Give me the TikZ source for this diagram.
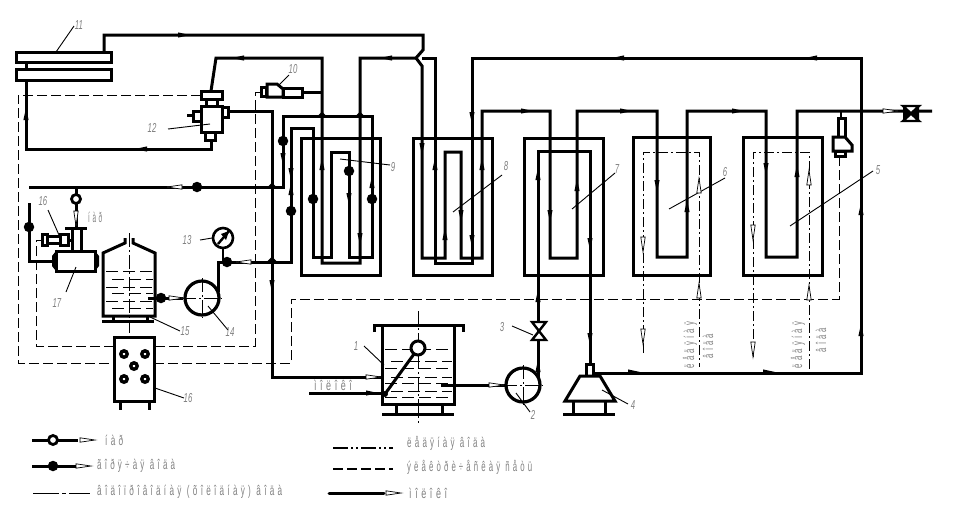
\documentclass[tikz,border=0pt]{standalone}
\usepackage{graphicx}
\usepackage{fontspec}
\setmainfont{Liberation Sans}
\newfontfamily\lblfont[LetterSpace=40]{Liberation Sans}
\definecolor{lblgray}{gray}{0.5}
\newcommand{\txt}[2]{\resizebox{#1pt}{\height}{\lblfont #2}}
\newcommand{\num}[1]{\scalebox{0.6}[1]{\itshape #1}}
\tikzset{
  x=1pt,y=-1pt,
  pipe/.style={line width=3pt,line cap=butt,line join=miter},
  wall/.style={line width=3pt,line join=miter},
  leader/.style={line width=0.9pt},
  ctrl/.style={line width=1pt,dash pattern=on 10pt off 4pt},
  center/.style={line width=0.8pt,dash pattern=on 14pt off 3pt on 2pt off 3pt},
  cold/.style={line width=1pt,dash pattern=on 10pt off 3pt on 2pt off 3pt},
  liquid/.style={line width=1pt,dash pattern=on 12pt off 5pt},
  numl/.style={text=lblgray,font=\fontsize{13}{13}\selectfont,inner sep=0pt},
  tl/.style={text=lblgray,font=\fontsize{14}{14}\selectfont,inner sep=0pt},
  dot/.style={circle,fill=black,draw=none,minimum size=10.5pt,inner sep=0pt},
  hdot/.style={circle,fill=white,draw=black,line width=2.8pt,minimum size=9pt,inner sep=0pt},
  farr/.pic={\fill[black] (0,0)--(-12,2.6)--(-12,-2.6)--cycle;},
  harr/.pic={\draw[fill=white,line width=0.7pt] (0,0)--(-15,2.2)--(-15,-2.2)--cycle;},
  hop/.pic={\fill[black] (-4.5,0) -- (0,-4.5) -- (4.5,0) -- cycle;}
}
\begin{document}
\begin{tikzpicture}
\useasboundingbox (0,0) rectangle (956,523);

% control (electric) dashed lines
\draw[ctrl] (201,95) -- (18,95) -- (18,363) -- (114,363);
\draw[ctrl] (154,363) -- (291,363) -- (291,299) -- (839,299) -- (839,156);
\draw[ctrl] (261,92) -- (255,92) -- (255,346) -- (154,346);
\draw[ctrl] (114,346) -- (36,346) -- (36,240) -- (42,240);

% unit 11
\draw[wall] (16,52) rectangle (111,62);
\draw[wall] (16,69) rectangle (111,80);
\draw[pipe] (26,62) -- (26,69);
\draw[leader] (56,52) -- (74,26);
\node[numl] (n11) at (79,25) {\num{11}};

% lines around 11 and valve 12
\draw[pipe] (104,52) -- (104,35) -- (423,35) -- (423,50) -- (416,58) -- (422,66) -- (422,258) -- (445,258) -- (445,152) -- (461,152) -- (461,258) -- (482,258) -- (482,111) -- (550,111) -- (550,258) -- (577,258) -- (577,111) -- (657,111) -- (657,257) -- (687,257) -- (687,111) -- (766,111) -- (766,257) -- (797,257) -- (797,111) -- (932,111);
\draw[pipe] (211,140) -- (211,149) -- (26,149) -- (26,80);
\draw[pipe] (211,91) -- (216,58) -- (322,58) -- (322,263) -- (360,263) -- (360,58) -- (416,58);
\draw[pipe] (422,58) -- (435,58) -- (435,263) -- (472,263) -- (472,58) -- (861,58) -- (861,373) -- (593,373);
\draw[pipe] (228,111) -- (272,111) -- (272,377) -- (382,377);
\draw[pipe] (29,187) -- (283,187) -- (283,116) -- (372,116) -- (372,257) -- (349,257) -- (349,152) -- (331,152) -- (331,257) -- (313,257) -- (313,128) -- (291,128) -- (291,262) -- (218,262) -- (218,292);

% valve 12
\draw[wall,fill=white] (201,91) rectangle (222,99);
\draw[wall,fill=white] (206,99) rectangle (217,106);
\draw[wall,fill=white] (201,106) rectangle (222,132);
\draw[wall,fill=white] (193,111) rectangle (201,121);
\draw[wall,fill=white] (222,107) rectangle (228,117);
\draw[wall,fill=white] (205,132) rectangle (215,140);
\draw[pipe] (187,115) -- (193,115);
\draw[leader] (168,129) -- (210,124);
\node[numl] (n12) at (152,128) {\num{12}};

% sensor 10
\draw[wall,fill=white] (261,87) rectangle (266,96);
\draw[wall,fill=white] (267,84) -- (277,84) -- (283,89) -- (283,97) -- (267,97) -- cycle;
\draw[wall,fill=white] (283,88) rectangle (302,97);
\draw[pipe] (302,92) -- (322,92);
\draw[leader] (279,85) -- (289,75);
\node[numl] (n10) at (293,69) {\num{10}};

% tanks
\draw[wall] (301,138) rectangle (380,275);
\draw[wall] (413,138) rectangle (492,275);
\draw[wall] (524,138) rectangle (603,275);
\draw[wall] (633,137) rectangle (710,275);
\draw[wall] (743,137) rectangle (822,275);

% tank 7 coil
\draw[pipe] (538,385) -- (538,151) -- (590,151) -- (590,364);

% chilled water
\draw[cold] (643,353) -- (643,152) -- (699,152) -- (699,367);
\draw[cold] (753,357) -- (753,152) -- (809,152) -- (809,369);

% dots on pipes
\node[dot] (d1) at (283,141) {};
\node[dot] (d2) at (291,211) {};
\node[dot] (d3) at (313,199) {};
\node[dot] (d4) at (349,171) {};
\node[dot] (d5) at (372,199) {};
\node[dot] (d6) at (197,187) {};
\node[dot] (d7) at (227,262) {};
\node[dot] (d8) at (161,298) {};
\node[dot] (d9) at (29,227) {};
\pic at (322,116) {hop};
\pic at (360,116) {hop};
\pic at (272,187) {hop};
\pic at (272,261) {hop};

% gauge 13
\draw[line width=2.6pt,fill=white] (223,238) circle (10);
\draw[line width=2.4pt] (218,244) -- (229,231);
\fill (229,231) -- (221,234) -- (226,240) -- cycle;
\draw[line width=1.2pt] (223,248) -- (223,262);
\draw[leader] (200,240) -- (212,238);
\node[numl] (n13) at (187,240) {\num{13}};

% pump 14
\draw[line width=3.2pt,fill=white] (202,298) circle (17);
\draw[center] (182,298) -- (222,298);
\draw[center] (202,278) -- (202,318);
\draw[leader] (208,306) -- (228,330);
\node[numl] (n14) at (230,332) {\num{14}};
\draw[pipe] (148,298) -- (183,298);

% tank 15
\draw[wall] (125,238) -- (125,243) -- (103,253) -- (103,316) -- (155,316) -- (155,253) -- (133,243) -- (133,238);
\draw[wall] (113,316) -- (113,321) (147,316) -- (147,321);
\draw[wall] (102,321) -- (154,321);
\draw[center] (129,233) -- (129,333);
\foreach \yy/\xo in {271/106,279/112,287/106,293/112,301/106,308/112} \draw[liquid] (\xo,\yy) -- (153,\yy);
\draw[leader] (150,317) -- (180,331);
\node[numl] (n15) at (185,331) {\num{15}};

% burner 16
\draw[wall] (120,401) -- (120,410) (149,401) -- (149,410);
\draw[wall,fill=white] (114,337) rectangle (154,401);
\foreach \xx/\yy in {124/354,145/354,134/366,124/379,145/379}
  \draw[line width=3.4pt,fill=white] (\xx,\yy) circle (3.2);
\draw[leader] (155,388) -- (184,398);
\node[numl] (n16) at (188,398) {\num{16}};

% heat exchanger 17
\draw[pipe] (29,203) -- (29,261) -- (53,261);
\draw[pipe] (76,187) -- (76,228);
\draw[wall,fill=white] (72,228) rectangle (81,251);
\draw[wall] (65,228) -- (87,228);
\draw[wall,fill=white] (42,234) rectangle (47,245);
\draw[wall,fill=white] (47,236) rectangle (60,243);
\draw[wall,fill=white] (60,234) rectangle (68,245);
\draw[wall] (68,240) -- (72,240);
\draw[wall,fill=white] (56,251) rectangle (95,271);
\fill (56,251) -- (52,256) -- (52,266) -- (56,271) -- cycle;
\fill (95,251) -- (99,256) -- (99,266) -- (95,271) -- cycle;
\node[hdot] (d10) at (76,199) {};
\draw[leader] (48,210) -- (59,235);
\node[numl] (n16b) at (43,201) {\num{16}};
\draw[leader] (66,292) -- (76,267);
\node[numl] (n17) at (57,303) {\num{17}};
\node[tl,anchor=west] (t1) at (88,217) {\txt{14}{íàð}};

% tank 1
\draw[wall] (382,325) -- (382,404) -- (454,404) -- (454,325);
\draw[wall] (374,332) -- (374,325) -- (463,325) -- (463,332);
\draw[wall] (396,404) -- (396,414) (442,404) -- (442,414);
\draw[wall] (382,414) -- (454,414);
\draw[center] (418,311) -- (418,423);
\foreach \yy/\xo in {349/385,361/391,368/385,377/391,383/385,391/391,397/385} \draw[liquid] (\xo,\yy) -- (452,\yy);
\draw[wall] (414,354) -- (385,394);
\fill (385,394) circle (3);
\draw[line width=3pt,fill=white] (418,348) circle (7);
\draw[pipe] (309,393) -- (382,393);
\node[tl] (t2) at (333,385) {\txt{38}{ìîëîêî}};
\draw[leader] (364,346) -- (384,365);
\node[numl] (n1) at (356,346) {\num{1}};

% pump 2, valve 3
\draw[pipe] (441,385) -- (505,385);
\draw[line width=3.2pt,fill=white] (523,385) circle (17);
\draw[center] (503,385) -- (543,385);
\draw[center] (523,365) -- (523,405);
\draw[leader] (516,393) -- (530,412);
\node[numl] (n2) at (533,415) {\num{2}};
\draw[line width=2.4pt,fill=white] (532,322) -- (546,322) -- (532,340) -- (546,340) -- cycle;
\draw[leader] (512,326) -- (533,335);
\node[numl] (n3) at (502,327) {\num{3}};

% unit 4
\draw[wall,fill=white] (586,364) rectangle (593,376);
\draw[wall,fill=white] (580,376) -- (600,376) -- (615,401) -- (565,401) -- cycle;
\draw[wall] (573,401) -- (573,414) (605,401) -- (605,414);
\draw[wall] (563,414) -- (615,414);
\draw[leader] (602,390) -- (628,404);
\node[numl] (n4) at (633,405) {\num{4}};

% right sensor and end valve
\draw[line width=2pt] (841,111) -- (841,118);
\draw[wall,fill=white] (838,118) rectangle (845,137);
\draw[wall,fill=white] (833,137) -- (845,137) -- (852,145) -- (852,151) -- (833,151) -- cycle;
\draw[wall,fill=white] (835,151) rectangle (845,156);
\draw[line width=2.4pt,fill=white] (903,106) -- (919,121) -- (903,121) -- (919,106) -- cycle;
\fill (903,106) -- (911,113) -- (903,121) -- cycle;
\fill (919,106) -- (911,113) -- (919,121) -- cycle;

% leaders for tanks
\draw[leader] (340,159) -- (390,165);
\node[numl] (n9) at (393,167) {\num{9}};
\draw[leader] (453,212) -- (502,175);
\node[numl] (n8) at (506,166) {\num{8}};
\draw[leader] (572,209) -- (615,173);
\node[numl] (n7) at (617,169) {\num{7}};
\draw[leader] (669,209) -- (725,178);
\node[numl] (n6) at (725,172) {\num{6}};
\draw[leader] (790,226) -- (873,171);
\node[numl] (n5) at (878,170) {\num{5}};

% solid flow arrows
\pic at (190,35) {farr};
\pic[rotate=180] at (232,58) {farr};
\pic[rotate=180] at (135,149) {farr};
\pic[rotate=90] at (26,108) {farr};
\pic[rotate=180] at (380,58) {farr};
\pic[rotate=-90] at (272,292) {farr};
\pic[rotate=-90] at (283,165) {farr};
\pic[rotate=-90] at (291,180) {farr};
\pic[rotate=90] at (291,183) {farr};
\pic[rotate=90] at (322,158) {farr};
\pic[rotate=-90] at (349,205) {farr};
\pic[rotate=-90] at (360,245) {farr};
\pic[rotate=90] at (372,176) {farr};
\pic[rotate=-90] at (422,155) {farr};
\pic[rotate=90] at (435,158) {farr};
\pic[rotate=90] at (445,228) {farr};
\pic[rotate=-90] at (461,222) {farr};
\pic[rotate=-90] at (472,124) {farr};
\pic[rotate=-90] at (472,247) {farr};
\pic[rotate=90] at (482,158) {farr};
\pic at (533,111) {farr};
\pic[rotate=90] at (538,168) {farr};
\pic[rotate=-90] at (550,222) {farr};
\pic[rotate=90] at (577,179) {farr};
\pic[rotate=-90] at (590,250) {farr};
\pic at (632,111) {farr};
\pic[rotate=-90] at (657,192) {farr};
\pic[rotate=90] at (687,200) {farr};
\pic at (744,111) {farr};
\pic[rotate=-90] at (766,175) {farr};
\pic[rotate=90] at (797,165) {farr};
\pic[rotate=180] at (612,58) {farr};
\pic[rotate=180] at (805,58) {farr};
\pic[rotate=90] at (861,203) {farr};
\pic[rotate=90] at (861,324) {farr};
\pic at (640,372) {farr};
\pic at (775,372) {farr};
\pic[rotate=90] at (538,290) {farr};
\pic[rotate=90] at (538,360) {farr};
\pic[rotate=-90] at (590,345) {farr};
\pic at (378,393) {farr};

% hollow arrows
\pic[rotate=180] at (167,187) {harr};
\pic[rotate=-90] at (76,226) {harr};
\pic at (184,298) {harr};
\pic[rotate=180] at (236,262) {harr};
\pic at (381,377) {harr};
\pic at (504,385) {harr};
\pic at (898,111) {harr};
\pic[rotate=-90] at (643,252) {harr};
\pic[rotate=90] at (699,178) {harr};
\pic[rotate=90] at (699,283) {harr};
\pic[rotate=-90] at (643,344) {harr};
\pic[rotate=-90] at (753,240) {harr};
\pic[rotate=90] at (809,170) {harr};
\pic[rotate=90] at (809,285) {harr};
\pic[rotate=-90] at (753,357) {harr};

% rotated labels
\node[tl,rotate=90] (t3) at (690,345) {\txt{46}{ëåäÿíàÿ}};
\node[tl,rotate=90] (t4) at (708,346) {\txt{24}{âîäà}};
\node[tl,rotate=90] (t5) at (798,345) {\txt{46}{ëåäÿíàÿ}};
\node[tl,rotate=90] (t6) at (821,340) {\txt{24}{âîäà}};

% legend
\draw[pipe] (32,440) -- (78,440);
\node[hdot] (lg1) at (53,440) {};
\pic at (95,440) {harr};
\node[tl,anchor=west] (lt1) at (105,440) {\txt{18}{íàð}};
\draw[pipe] (32,466) -- (76,466);
\node[dot] (lg2) at (53,466) {};
\pic at (91,466) {harr};
\node[tl,anchor=west] (lt2) at (97,466) {\txt{78}{ãîðÿ÷àÿ âîäà}};
\draw[cold,dash pattern=on 26pt off 3pt on 4pt off 3pt] (33,493) -- (90,493);
\node[tl,anchor=west] (lt3) at (97,492) {\txt{185}{âîäîïðîâîäíàÿ (õîëîäíàÿ) âîäà}};
\draw[line width=1.1pt,dash pattern=on 15pt off 3pt on 2pt off 3pt on 2pt off 3pt] (333,448) -- (393,448);
\node[tl,anchor=west] (lt4) at (407,443) {\txt{78}{ëåäÿíàÿ âîäà}};
\draw[line width=1.1pt,dash pattern=on 10pt off 4pt] (333,469) -- (393,469);
\node[tl,anchor=west] (lt5) at (407,467) {\txt{125}{ýëåêòðè÷åñêàÿ ñåòü}};
\draw[pipe,line cap=round] (329,493) -- (384,493);
\pic at (401,493) {harr};
\node[tl,anchor=west] (lt6) at (409,493) {\txt{38}{ìîëîêî}};
\end{tikzpicture}
\end{document}
